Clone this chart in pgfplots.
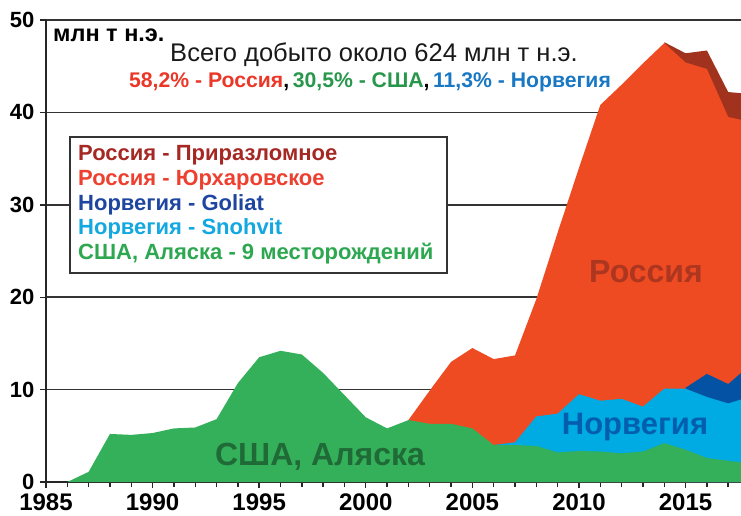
\documentclass[border=0pt]{standalone}
\usepackage{fontspec}
\setmainfont{Liberation Sans}
\usepackage{pgfplots}
\usepackage{pgfplotstable}
\pgfplotsset{compat=1.18}
\definecolor{cusa}{RGB}{52,176,90}
\definecolor{csno}{RGB}{0,170,226}
\definecolor{cgol}{RGB}{4,82,164}
\definecolor{cyur}{RGB}{238,75,35}
\definecolor{cpri}{RGB}{160,50,30}
\definecolor{tred}{RGB}{235,55,40}
\definecolor{tgreen}{RGB}{40,150,75}
\definecolor{tblue}{RGB}{25,120,195}
\definecolor{lpri}{RGB}{165,40,35}
\definecolor{lyur}{RGB}{238,64,48}
\definecolor{lgol}{RGB}{30,70,160}
\definecolor{lsno}{RGB}{20,168,225}
\definecolor{lusa}{RGB}{45,168,80}
% cumulative tops of the stacked areas
\pgfplotstableread{
year usa sno gol yur pri
1986 0.0 0.0 0.0 0.0 0.0
1987 1.1 1.1 1.1 1.1 1.1
1988 5.2 5.2 5.2 5.2 5.2
1989 5.1 5.1 5.1 5.1 5.1
1990 5.3 5.3 5.3 5.3 5.3
1991 5.8 5.8 5.8 5.8 5.8
1992 5.9 5.9 5.9 5.9 5.9
1993 6.8 6.8 6.8 6.8 6.8
1994 10.7 10.7 10.7 10.7 10.7
1995 13.5 13.5 13.5 13.5 13.5
1996 14.2 14.2 14.2 14.2 14.2
1997 13.8 13.8 13.8 13.8 13.8
1998 11.8 11.8 11.8 11.8 11.8
1999 9.4 9.4 9.4 9.4 9.4
2000 7.0 7.0 7.0 7.0 7.0
2001 5.8 5.8 5.8 5.8 5.8
2002 6.7 6.7 6.7 6.7 6.7
2003 6.3 6.3 6.3 9.9 9.9
2004 6.3 6.3 6.3 13.0 13.0
2005 5.8 5.8 5.8 14.5 14.5
2006 4.0 4.0 4.0 13.3 13.3
2007 4.0 4.3 4.3 13.7 13.7
2008 3.9 7.1 7.1 19.8 19.8
2009 3.2 7.4 7.4 27.0 27.0
2010 3.35 9.5 9.5 34.0 34.0
2011 3.3 8.8 8.8 40.8 40.8
2012 3.1 9.0 9.0 43.0 43.0
2013 3.3 8.15 8.15 45.3 45.3
2014 4.2 10.1 10.1 47.5 47.6
2015 3.5 10.1 10.2 45.4 46.4
2016 2.6 9.2 11.7 44.7 46.7
2017 2.3 8.5 10.6 39.5 42.2
2018 2.0 9.2 12.6 39.0 42.0
}\data
\begin{document}
\begin{tikzpicture}
\path[use as bounding box] (-46pt,-33pt) rectangle (695pt,482pt);
\begin{axis}[
  at={(0pt,0pt)}, anchor=south west,
  scale only axis, width=695pt, height=462pt,
  xmin=1985, xmax=2017.6, ymin=0, ymax=50,
  axis lines=left,
  axis line style={-, line width=1.6pt, color=black!85},
  ytick={0,10,...,50},
  xtick={1985,1990,...,2015},
  minor xtick={1986,...,2017},
  tick align=outside,
  major tick length=6pt, minor tick length=5pt,
  tick style={line width=1.4pt, color=black!85},
  ymajorgrids,
  grid style={line width=1.6pt, color=black!80},
  /pgf/number format/assume math mode=true,
  /pgf/number format/1000 sep={},
  xticklabel style={font=\fontsize{24}{24}\selectfont\bfseries, inner sep=1pt, yshift=-5pt},
  yticklabel style={font=\fontsize{22}{22}\selectfont\bfseries, xshift=-2pt},
  clip=true,
]
\addplot[fill=cpri, draw=none, restrict x to domain=2014:2018] table[x=year,y=pri]{\data} \closedcycle;
\addplot[fill=cyur, draw=none, restrict x to domain=2002:2018] table[x=year,y=yur]{\data} \closedcycle;
\addplot[fill=cgol, draw=none, restrict x to domain=2015:2018] table[x=year,y=gol]{\data} \closedcycle;
\addplot[fill=csno, draw=none, restrict x to domain=2006:2018] table[x=year,y=sno]{\data} \closedcycle;
\addplot[fill=cusa, draw=none] table[x=year,y=usa]{\data} \closedcycle;
\end{axis}
% texts
\node[anchor=west, font=\fontsize{23.5}{23.5}\selectfont\bfseries, inner sep=0pt] at (7pt,447pt) {млн т н.э.};
\node[font=\fontsize{25.5}{25.5}\selectfont, text=black!90, inner sep=0pt] at (328pt,427pt) {Всего добыто около 624 млн т н.э.};
\node[font=\fontsize{21.2}{21.2}\selectfont\bfseries, inner sep=0pt] at (324pt,400pt) {\textcolor{tred}{58,2\% - Россия},\,\textcolor{tgreen}{30,5\% - США},\,\textcolor{tblue}{11,3\% - Норвегия}};
\draw[fill=white, line width=1.8pt, draw=black!80] (24pt,209pt) rectangle (401pt,345pt);
\begin{scope}[every node/.style={anchor=west, font=\fontsize{22}{22}\selectfont\bfseries, inner sep=0pt}]
\node[text=lpri] at (32pt,327pt) {Россия - Приразломное};
\node[text=lyur] at (32pt,302pt) {Россия - Юрхаровское};
\node[text=lgol] at (32pt,277.5pt) {Норвегия - Goliat};
\node[text=lsno] at (32pt,253pt) {Норвегия - Snohvit};
\node[text=lusa] at (32pt,228pt) {США, Аляска - 9 месторождений};
\end{scope}
\node[font=\fontsize{32}{32}\selectfont\bfseries, text=cpri!85!cyur] at (600pt,210pt) {Россия};
\node[font=\fontsize{31}{31}\selectfont\bfseries, text=cgol!85!csno] at (589pt,55pt) {Норвегия};
\node[font=\fontsize{32}{32}\selectfont\bfseries, text=cusa!60!black] at (274pt,25pt) {США, Аляска};
\end{tikzpicture}
\end{document}
